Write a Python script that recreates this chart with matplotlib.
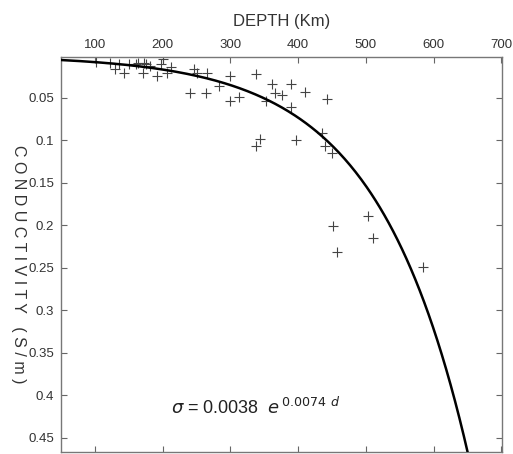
import numpy as np
import matplotlib.pyplot as plt

plt.rcParams['font.family'] = ['Liberation Sans', 'DejaVu Sans']

depth = [101, 123, 129, 135, 143, 151, 160, 164, 172, 171, 175, 182, 192, 198, 201, 207, 213,
         246, 251, 266, 240, 264, 283, 299, 299, 312, 338, 352, 362, 366, 376, 389, 389, 410, 443,
         338, 344, 397, 435, 439, 450, 503, 452, 511, 458, 584]
sigma = [0.008, 0.0087, 0.0158, 0.0096, 0.0205, 0.0096, 0.0096, 0.0087, 0.0087, 0.0205, 0.0107,
         0.0127, 0.0245, 0.0107, 0.0048, 0.0213, 0.0134,
         0.0158, 0.0205, 0.0205, 0.0449, 0.0449, 0.0355, 0.0243, 0.054, 0.0493, 0.0225, 0.054,
         0.0335, 0.0449, 0.0461, 0.0335, 0.0606, 0.0432, 0.0512,
         0.1071, 0.0983, 0.0995, 0.0913, 0.1063, 0.1149, 0.1892, 0.2006, 0.2151, 0.2318, 0.249]

# fit printed on the chart: sigma = A * exp(B * d)
fit_a = 0.0038
fit_b = 0.0074

xticks = [100, 200, 300, 400, 500, 600, 700]
yticks = [0.05, 0.1, 0.15, 0.2, 0.25, 0.3, 0.35, 0.4, 0.45]
ytick_labels = ['0.05', '0.1', '0.15', '0.2', '0.25', '0.3', '0.35', '0.4', '0.45']

fig = plt.figure(figsize=(5.13, 4.54), dpi=100)
ax = fig.add_axes([0.119, 0.0044, 0.8596, 0.869])

d_fit = np.linspace(50, 700, 400)
ax.plot(d_fit, fit_a * np.exp(fit_b * d_fit), color='black', lw=1.8, zorder=3)
ax.plot(depth, sigma, linestyle='none', marker='+', ms=7, mew=0.8, color='#444444', zorder=2)

ax.set_xlim(50, 701)
ax.set_ylim(0.467, 0.0025)

ax.xaxis.tick_top()
ax.xaxis.set_label_position('top')
ax.set_xticks(xticks)
ax.set_yticks(yticks)
ax.set_yticklabels(ytick_labels)
ax.tick_params(direction='in', length=4, width=0.8, colors='#666666', labelcolor='#333333',
               labelsize=9.5, top=True, bottom=True, left=True, right=True, pad=5)

for s in ax.spines.values():
    s.set_color('#777777')
    s.set_linewidth(1.0)

ax.set_xlabel('DEPTH (Km)', fontsize=12, color='#333333', labelpad=9)

# y label sits well left of the tick labels, reading top to bottom
fig.text(18 / 513, 1 - 264 / 454, 'C O N D U C T I V I T Y   ( S / m )', fontsize=11.5,
         color='#333333', rotation=270, ha='center', va='center')

ax.text(0.25, 0.114, r'$\sigma$ = 0.0038  $e^{\,0.0074\ d}$', transform=ax.transAxes,
        fontsize=13, color='#222222', va='center', ha='left')

fig.savefig('out.png', dpi=100)
